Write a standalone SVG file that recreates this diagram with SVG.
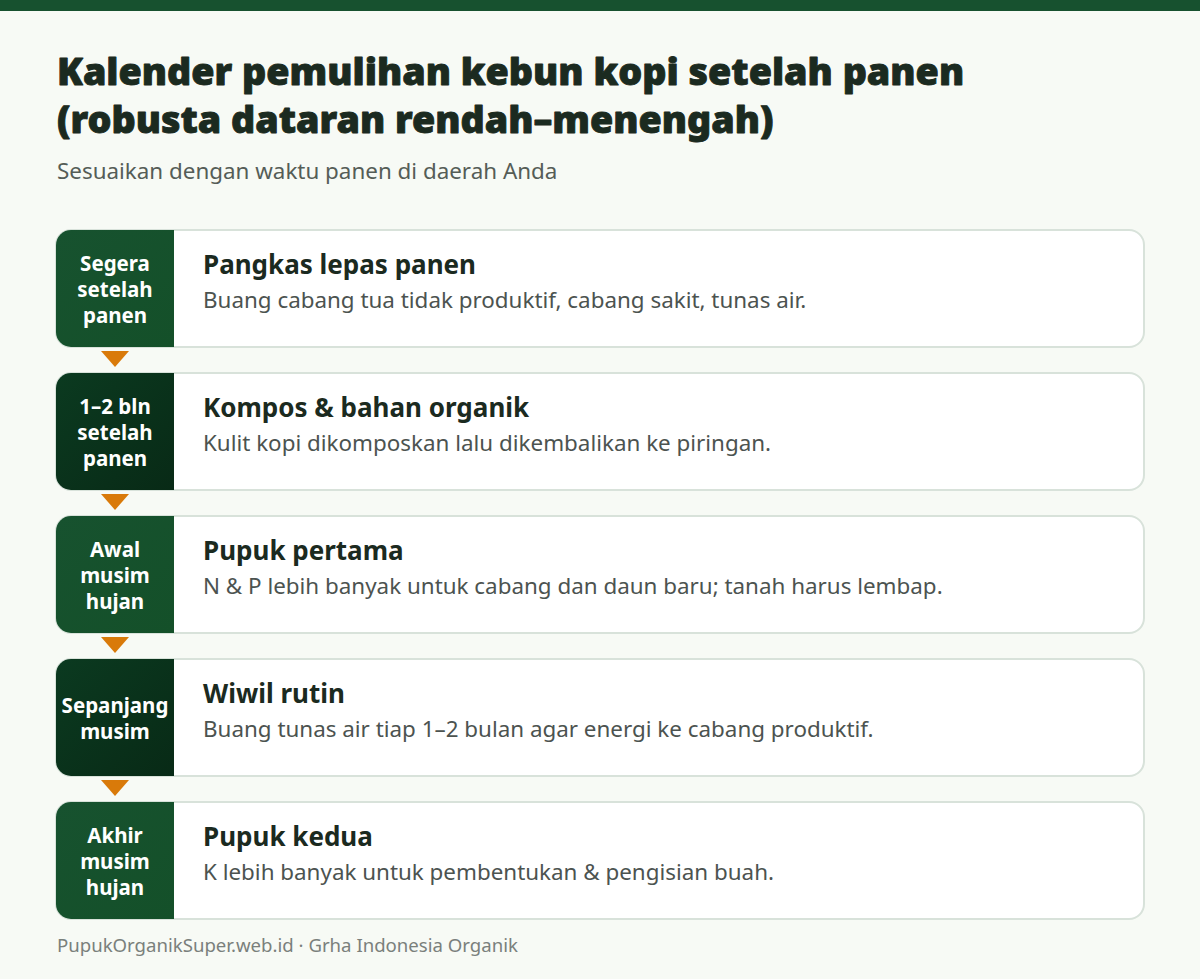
<svg xmlns="http://www.w3.org/2000/svg" width="1200" height="979" viewBox="0 0 1200 979">
<defs>
<style>
.title{font-family:"Noto Sans","Liberation Sans",sans-serif;font-weight:900;font-size:37.7px;fill:#1b2a20;stroke:#1b2a20;stroke-width:0.9px;stroke-linejoin:round}
.sub{font-family:"Noto Sans","Liberation Sans",sans-serif;font-size:22.4px;fill:#555d57}
.card{fill:#ffffff;stroke:#d8e2da;stroke-width:2}
.lab{font-family:"Noto Sans","Liberation Sans",sans-serif;font-weight:700;font-size:20.5px;fill:#ffffff;text-anchor:middle}
.h{font-family:"Noto Sans","Liberation Sans",sans-serif;font-weight:700;font-size:26px;fill:#1b2a20}
.d{font-family:"Noto Sans","Liberation Sans",sans-serif;font-size:22.4px;fill:#4c5350}
.foot{font-family:"Noto Sans","Liberation Sans",sans-serif;font-size:18.6px;fill:#7a807c}
.arr{fill:#d97a0a}
</style>
<linearGradient id="gA" x1="0" y1="0" x2="1" y2="1"><stop offset="0" stop-color="#17522f"/><stop offset="1" stop-color="#145029"/></linearGradient>
<linearGradient id="gB" x1="0" y1="0" x2="1" y2="1"><stop offset="0" stop-color="#0b3a20"/><stop offset="1" stop-color="#082a16"/></linearGradient>
<clipPath id="c1"><rect x="56" y="230" width="1088" height="117" rx="15"/></clipPath>
<clipPath id="c2"><rect x="56" y="373" width="1088" height="117" rx="15"/></clipPath>
<clipPath id="c3"><rect x="56" y="516" width="1088" height="117" rx="15"/></clipPath>
<clipPath id="c4"><rect x="56" y="659" width="1088" height="117" rx="15"/></clipPath>
<clipPath id="c5"><rect x="56" y="802" width="1088" height="117" rx="15"/></clipPath>
</defs>
<rect width="1200" height="979" fill="#f7faf5"/>
<rect width="1200" height="11" fill="#17512f"/>
<text class="title" x="57" y="85">Kalender pemulihan kebun kopi setelah panen</text>
<text class="title" x="57" y="133">(robusta dataran rendah–menengah)</text>
<text class="sub" x="57" y="179">Sesuaikan dengan waktu panen di daerah Anda</text>

<g id="connectors">
<polygon class="arr" points="101,351 129,351 115,367"/>
<polygon class="arr" points="101,494 129,494 115,510"/>
<polygon class="arr" points="101,637 129,637 115,653"/>
<polygon class="arr" points="101,780 129,780 115,796"/>
</g>

<g id="step1">
<rect class="card" x="56" y="230" width="1088" height="117" rx="15"/>
<rect x="56" y="230" width="118" height="117" fill="url(#gA)" clip-path="url(#c1)"/>
<text class="lab" x="115" y="271">Segera</text>
<text class="lab" x="115" y="297">setelah</text>
<text class="lab" x="115" y="323">panen</text>
<text class="h" x="203" y="274">Pangkas lepas panen</text>
<text class="d" x="203" y="308">Buang cabang tua tidak produktif, cabang sakit, tunas air.</text>
</g>

<g id="step2">
<rect class="card" x="56" y="373" width="1088" height="117" rx="15"/>
<rect x="56" y="373" width="118" height="117" fill="url(#gB)" clip-path="url(#c2)"/>
<text class="lab" x="115" y="414">1–2 bln</text>
<text class="lab" x="115" y="440">setelah</text>
<text class="lab" x="115" y="466">panen</text>
<text class="h" x="203" y="417">Kompos &amp; bahan organik</text>
<text class="d" x="203" y="451">Kulit kopi dikomposkan lalu dikembalikan ke piringan.</text>
</g>

<g id="step3">
<rect class="card" x="56" y="516" width="1088" height="117" rx="15"/>
<rect x="56" y="516" width="118" height="117" fill="url(#gA)" clip-path="url(#c3)"/>
<text class="lab" x="115" y="557">Awal</text>
<text class="lab" x="115" y="583">musim</text>
<text class="lab" x="115" y="609">hujan</text>
<text class="h" x="203" y="560">Pupuk pertama</text>
<text class="d" x="203" y="594">N &amp; P lebih banyak untuk cabang dan daun baru; tanah harus lembap.</text>
</g>

<g id="step4">
<rect class="card" x="56" y="659" width="1088" height="117" rx="15"/>
<rect x="56" y="659" width="118" height="117" fill="url(#gB)" clip-path="url(#c4)"/>
<text class="lab" x="115" y="713">Sepanjang</text>
<text class="lab" x="115" y="739">musim</text>
<text class="h" x="203" y="703">Wiwil rutin</text>
<text class="d" x="203" y="737">Buang tunas air tiap 1–2 bulan agar energi ke cabang produktif.</text>
</g>

<g id="step5">
<rect class="card" x="56" y="802" width="1088" height="117" rx="15"/>
<rect x="56" y="802" width="118" height="117" fill="url(#gA)" clip-path="url(#c5)"/>
<text class="lab" x="115" y="843">Akhir</text>
<text class="lab" x="115" y="869">musim</text>
<text class="lab" x="115" y="895">hujan</text>
<text class="h" x="203" y="846">Pupuk kedua</text>
<text class="d" x="203" y="880">K lebih banyak untuk pembentukan &amp; pengisian buah.</text>
</g>

<text class="foot" x="57" y="952">PupukOrganikSuper.web.id · Grha Indonesia Organik</text>
</svg>
